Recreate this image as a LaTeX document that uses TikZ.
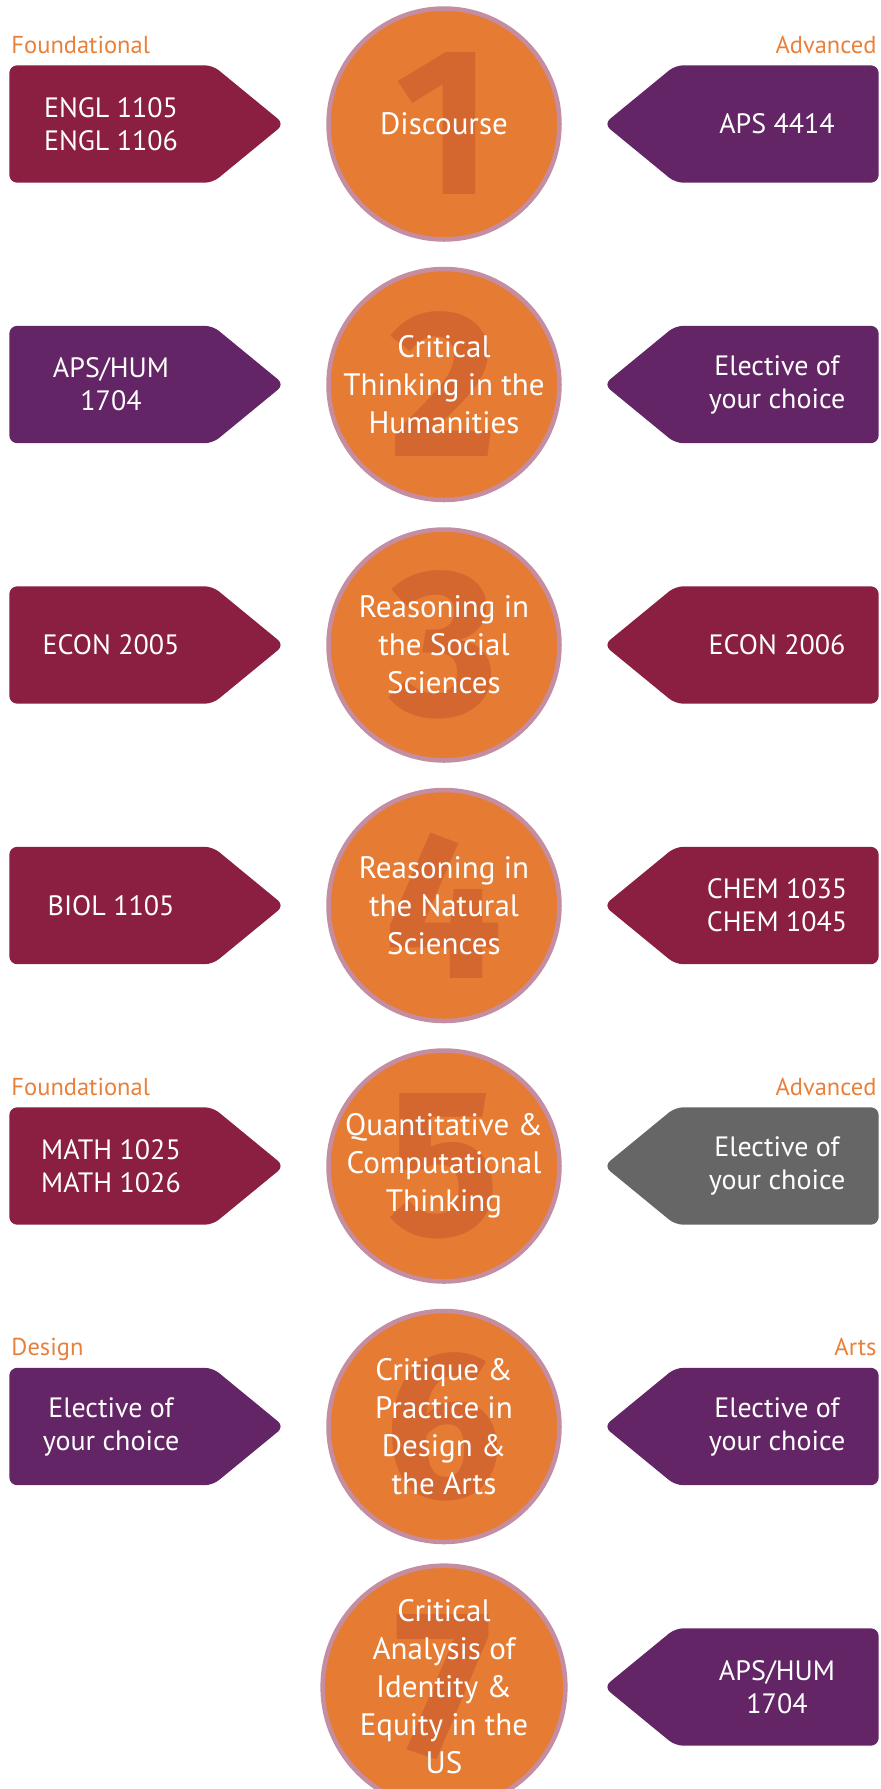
\documentclass[tikz,border=0pt]{standalone}
\usepackage{fontspec}
\setmainfont{PT Sans}
\newfontfamily\numfont{Fira Sans}
\usetikzlibrary{positioning, backgrounds}

\definecolor{disc}{HTML}{E67C34}
\definecolor{numeral}{HTML}{D4672F}
\definecolor{ring}{HTML}{C48DA2}
\definecolor{wine}{HTML}{8B1F41}
\definecolor{plum}{HTML}{632565}
\definecolor{slate}{HTML}{666666}
\definecolor{tagorange}{HTML}{E8803A}

\tikzset{
	area/.style={circle, fill=disc, draw=ring, line width=4.5pt, minimum size=231pt, inner sep=0pt,
		align=center, text=white, font=\fontsize{31}{38}\selectfont,
		path picture={\node[shape=rectangle, draw=none, fill=none, minimum size=0pt, inner sep=0pt,
			text=numeral, font=\numfont\bfseries\fontsize{210}{210}\selectfont] at (path picture bounding box.center) {#1};}},
	course/.style={minimum width=203pt, minimum height=117pt, inner sep=0pt, align=center,
		text=white, font=\fontsize{28}{33}\selectfont},
	tag/.style={text=tagorange, inner sep=0pt, font=\fontsize{24.5}{24.5}\selectfont}
}

\begin{document}
\begin{tikzpicture}[x=1pt, y=-1pt, node distance=260.5pt]
			\useasboundingbox (0,0) rectangle (881,1789);
			\clip (0,0) rectangle (881,1789);

			\node[area=1] (d1) at (444,124) {Discourse};
			\node[area=2, below of=d1] (d2) {Critical\\Thinking in the\\Humanities};
			\node[area=3, below of=d2] (d3) {Reasoning in\\the Social\\Sciences};
			\node[area=4, below of=d3] (d4) {Reasoning in\\the Natural\\Sciences};
			\node[area=5, below of=d4] (d5) {Quantitative \&\\Computational\\Thinking};
			\node[area=6, below of=d5] (d6) {Critique \&\\Practice in\\Design \&\\the Arts};
			\node[area=7, below of=d6] (d7) {Critical\\Analysis of\\Identity \&\\Equity in the\\US};

			\node[course, left of=d1, xshift=-72.5pt] (l1) {ENGL 1105\\ENGL 1106};
			\node[course, left of=d2, xshift=-72.5pt] (l2) {APS/HUM\\1704};
			\node[course, left of=d3, xshift=-72.5pt] (l3) {ECON 2005};
			\node[course, left of=d4, xshift=-72.5pt] (l4) {BIOL 1105};
			\node[course, left of=d5, xshift=-72.5pt] (l5) {MATH 1025\\MATH 1026};
			\node[course, left of=d6, xshift=-72.5pt] (l6) {Elective of\\your choice};

			\node[course, right of=d1, xshift=72.5pt] (r1) {APS 4414};
			\node[course, right of=d2, xshift=72.5pt] (r2) {Elective of\\your choice};
			\node[course, right of=d3, xshift=72.5pt] (r3) {ECON 2006};
			\node[course, right of=d4, xshift=72.5pt] (r4) {CHEM 1035\\CHEM 1045};
			\node[course, right of=d5, xshift=72.5pt] (r5) {Elective of\\your choice};
			\node[course, right of=d6, xshift=72.5pt] (r6) {Elective of\\your choice};
			\node[course, right of=d7, xshift=72.5pt] (r7) {APS/HUM\\1704};

			\node[tag, above=12pt of l1.north west, anchor=base west, xshift=2pt] (f1) {Foundational};
			\node[tag, above=12pt of r1.north east, anchor=base east, xshift=-2pt] (a1) {Advanced};
			\node[tag, above=12pt of l5.north west, anchor=base west, xshift=2pt] (f5) {Foundational};
			\node[tag, above=12pt of r5.north east, anchor=base east, xshift=-2pt] (a5) {Advanced};
			\node[tag, above=12pt of l6.north west, anchor=base west, xshift=2pt] (g6) {Design};
			\node[tag, above=12pt of r6.north east, anchor=base east, xshift=-2pt] (h6) {Arts};

			% arrow shaped plates behind the course names
			\begin{scope}[on background layer]
				\foreach \b/\c in {l1/wine, l2/plum, l3/wine, l4/wine, l5/wine, l6/plum}
					\fill[\c, rounded corners=8pt] (\b.north west) -- (\b.north east) -- ([xshift=71.5pt]\b.east)
						-- (\b.south east) -- (\b.south west) -- cycle;
				\foreach \b/\c in {r1/plum, r2/plum, r3/wine, r4/wine, r5/slate, r6/plum, r7/plum}
					\fill[\c, rounded corners=8pt] (\b.north east) -- (\b.north west) -- ([xshift=-71.5pt]\b.west)
						-- (\b.south west) -- (\b.south east) -- cycle;
			\end{scope}
		\end{tikzpicture}
\end{document}
